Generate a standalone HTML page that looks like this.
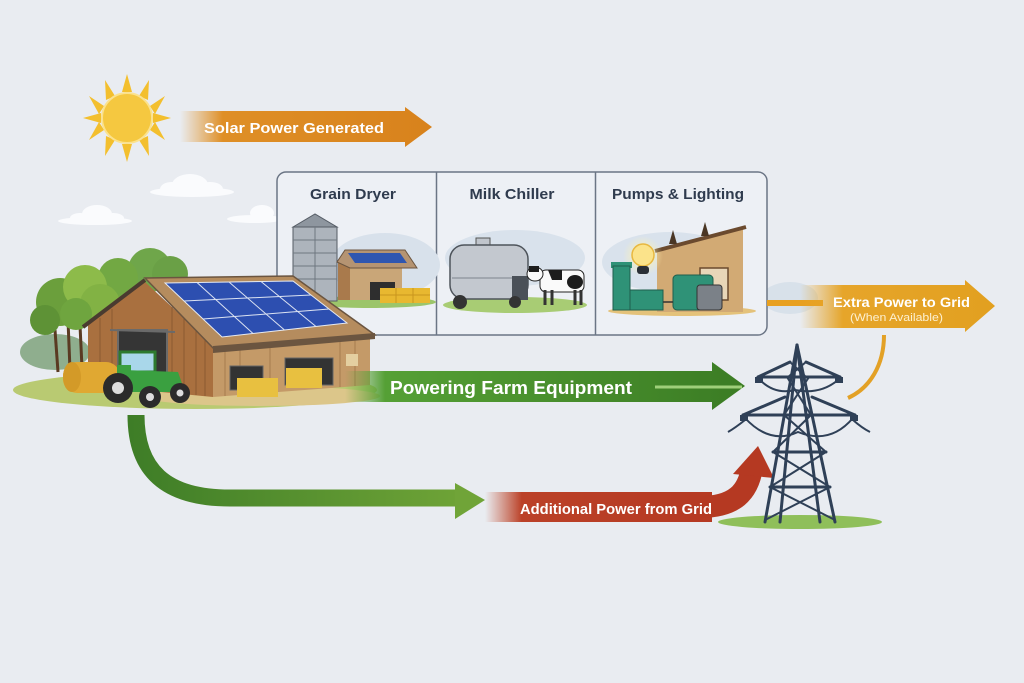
<!DOCTYPE html>
<html><head><meta charset="utf-8"><style>
html,body{margin:0;padding:0;background:#e9ecf1;}
svg{display:block;font-family:"Liberation Sans",sans-serif;}
</style></head><body>
<svg width="1024" height="683" viewBox="0 0 1024 683" xmlns="http://www.w3.org/2000/svg">
<defs>
<linearGradient id="gSolar" x1="180" y1="0" x2="432" y2="0" gradientUnits="userSpaceOnUse">
<stop offset="0" stop-color="#e2962c" stop-opacity="0"/><stop offset="0.17" stop-color="#df8f26"/><stop offset="1" stop-color="#d8821c"/></linearGradient>
<linearGradient id="gGreen" x1="345" y1="0" x2="745" y2="0" gradientUnits="userSpaceOnUse">
<stop offset="0" stop-color="#5aa23a" stop-opacity="0"/><stop offset="0.1" stop-color="#55a035"/><stop offset="1" stop-color="#3b7c24"/></linearGradient>
<linearGradient id="gCurve" x1="130" y1="0" x2="485" y2="0" gradientUnits="userSpaceOnUse">
<stop offset="0" stop-color="#3e7d27"/><stop offset="1" stop-color="#72a638"/></linearGradient>
<linearGradient id="gRed" x1="485" y1="0" x2="730" y2="0" gradientUnits="userSpaceOnUse">
<stop offset="0" stop-color="#c04a2c" stop-opacity="0"/><stop offset="0.15" stop-color="#bb4128"/><stop offset="1" stop-color="#b53922"/></linearGradient>
<linearGradient id="gExtra" x1="800" y1="0" x2="995" y2="0" gradientUnits="userSpaceOnUse">
<stop offset="0" stop-color="#e6a52a" stop-opacity="0"/><stop offset="0.22" stop-color="#e6a52a"/><stop offset="1" stop-color="#e2a020"/></linearGradient>
<radialGradient id="glow" cx="0.5" cy="0.5" r="0.5"><stop offset="0" stop-color="#fff3b0"/><stop offset="1" stop-color="#fff3b0" stop-opacity="0"/></radialGradient>
</defs>
<rect width="1024" height="683" fill="#e9ecf1"/>

<!-- sun -->
<g fill="#f3bf2e">
<polygon points="127,74 132,92 122,92"/><polygon points="127,162 132,144 122,144"/>
<polygon points="83,118 101,113 101,123"/><polygon points="171,118 153,113 153,123"/>
<polygon points="105,80 115,96 106,100"/><polygon points="149,80 139,96 148,100"/>
<polygon points="105,156 115,140 106,136"/><polygon points="149,156 139,140 148,136"/>
<polygon points="89,96 104,106 99,114"/><polygon points="165,96 150,106 155,114"/>
<polygon points="89,140 104,130 99,122"/><polygon points="165,140 150,130 155,122"/>
</g>
<circle cx="127" cy="118" r="25" fill="#f5c840" stroke="#fbe28e" stroke-width="2"/>

<!-- solar arrow -->
<polygon points="180,111 405,111 405,107 432,127 405,147 405,142 180,142" fill="url(#gSolar)"/>
<text x="204" y="133" font-size="14.5" font-weight="bold" fill="#fff" textLength="180" lengthAdjust="spacingAndGlyphs">Solar Power Generated</text>

<!-- clouds -->
<g fill="#fafbfd">
<ellipse cx="192" cy="192" rx="42" ry="5"/><ellipse cx="190" cy="185" rx="18" ry="11"/><ellipse cx="172" cy="189" rx="12" ry="7"/><ellipse cx="210" cy="189" rx="13" ry="7"/>
<ellipse cx="95" cy="221" rx="37" ry="4"/><ellipse cx="97" cy="214" rx="15" ry="9"/><ellipse cx="80" cy="218" rx="10" ry="5"/><ellipse cx="113" cy="218" rx="11" ry="5"/>
<ellipse cx="255" cy="219" rx="28" ry="4"/><ellipse cx="262" cy="213" rx="12" ry="8"/>
</g>

<!-- background hills -->
<ellipse cx="790" cy="298" rx="28" ry="16" fill="#d8e1ea"/>
<ellipse cx="55" cy="352" rx="35" ry="18" fill="#8fae8e"/>

<!-- panel -->
<rect x="277" y="172" width="490" height="163" rx="9" fill="#edf0f5" stroke="#6b7585" stroke-width="1.5"/>
<line x1="436.5" y1="172" x2="436.5" y2="335" stroke="#6b7585" stroke-width="1.5"/>
<line x1="595.5" y1="172" x2="595.5" y2="335" stroke="#6b7585" stroke-width="1.5"/>
<g font-size="15" font-weight="bold" fill="#2f3b4e" text-anchor="middle">
<text x="353" y="199" textLength="86" lengthAdjust="spacingAndGlyphs">Grain Dryer</text>
<text x="512" y="199" textLength="85" lengthAdjust="spacingAndGlyphs">Milk Chiller</text>
<text x="678" y="199" textLength="132" lengthAdjust="spacingAndGlyphs">Pumps &amp; Lighting</text>
</g>

<!-- grain dryer panel -->
<ellipse cx="385" cy="265" rx="55" ry="32" fill="#d8e1eb"/>
<ellipse cx="370" cy="302" rx="66" ry="6" fill="#9cc56a"/>
<polygon points="293,227 315,214 337,227" fill="#8e969f" stroke="#555c65" stroke-width="1"/>
<rect x="293" y="227" width="44" height="74" fill="#adb4bc" stroke="#555c65" stroke-width="1"/>
<g stroke="#6f7780" stroke-width="1"><line x1="293" y1="240" x2="337" y2="240"/><line x1="293" y1="253" x2="337" y2="253"/><line x1="293" y1="266" x2="337" y2="266"/><line x1="293" y1="279" x2="337" y2="279"/><line x1="315" y1="227" x2="315" y2="301"/></g>
<rect x="338" y="262" width="64" height="38" fill="#c9a678"/>
<rect x="338" y="262" width="12" height="38" fill="#a97a4c"/>
<polygon points="337,262 345,250 405,250 417,268 350,268" fill="#b59472" stroke="#6b5540" stroke-width="1"/>
<polygon points="348,253 400,253 407,263 355,263" fill="#2f56b0"/>
<rect x="370" y="282" width="25" height="18" fill="#2e2e2e"/>
<rect x="380" y="288" width="50" height="15" fill="#e8b830"/>
<g stroke="#c9961e"><line x1="396" y1="288" x2="396" y2="303"/><line x1="413" y1="288" x2="413" y2="303"/><line x1="380" y1="295" x2="430" y2="295"/></g>

<!-- milk chiller panel -->
<ellipse cx="515" cy="258" rx="70" ry="28" fill="#d9e2ec"/>
<ellipse cx="515" cy="305" rx="72" ry="8" fill="#a8cc74"/>
<rect x="476" y="238" width="14" height="9" fill="#c0c5cc" stroke="#555" stroke-width="1"/>
<rect x="450" y="245" width="78" height="54" rx="14" fill="#c3c8cf" stroke="#4e545b" stroke-width="1.5"/>
<line x1="452" y1="278" x2="526" y2="278" stroke="#7d848c" stroke-width="1"/>
<rect x="512" y="276" width="16" height="24" fill="#4a5058"/>
<circle cx="460" cy="302" r="7" fill="#333"/><circle cx="515" cy="302" r="6" fill="#333"/>
<rect x="540" y="270" width="44" height="22" rx="6" fill="#fafafa" stroke="#222" stroke-width="1"/>
<path d="M548,270 h14 v10 h-10 z" fill="#1d1d1d"/><ellipse cx="575" cy="282" rx="8" ry="7" fill="#1d1d1d"/>
<ellipse cx="535" cy="274" rx="8" ry="7" fill="#fafafa" stroke="#222"/>
<rect x="529" y="266" width="10" height="6" fill="#1d1d1d"/>
<g stroke="#333" stroke-width="3"><line x1="545" y1="290" x2="545" y2="305"/><line x1="552" y1="290" x2="552" y2="305"/><line x1="575" y1="290" x2="575" y2="305"/><line x1="581" y1="290" x2="581" y2="305"/></g>

<!-- pumps & lighting panel -->
<ellipse cx="670" cy="262" rx="68" ry="30" fill="#d9e2ec"/>
<ellipse cx="682" cy="311" rx="74" ry="5" fill="#e4c27a"/>
<polygon points="657,250 743,228 743,312 657,312" fill="#d2aa74"/>
<line x1="655" y1="251" x2="746" y2="227" stroke="#6b4a2e" stroke-width="4"/>
<polygon points="669,244 673,230 677,244" fill="#4a3624"/><polygon points="701,236 705,222 709,236" fill="#4a3624"/>
<rect x="700" y="268" width="28" height="32" fill="#e8d6b8" stroke="#6b4a2e" stroke-width="1.5"/>
<circle cx="643" cy="256" r="20" fill="url(#glow)"/>
<circle cx="643" cy="255" r="11" fill="#fbe38a" stroke="#e8b840" stroke-width="1.5"/>
<rect x="637" y="266" width="12" height="8" rx="3" fill="#2a2f36"/>
<rect x="611" y="262" width="21" height="6" fill="#2f9277"/>
<rect x="613" y="266" width="17" height="44" fill="#2f9277" stroke="#1f5d4c"/>
<rect x="630" y="290" width="33" height="20" fill="#2f9277" stroke="#1f5d4c"/>
<rect x="673" y="275" width="40" height="35" rx="4" fill="#2f9277" stroke="#1f5d4c"/>
<rect x="697" y="285" width="25" height="25" rx="3" fill="#7b8188" stroke="#333"/>
<line x1="663" y1="302" x2="673" y2="302" stroke="#333" stroke-width="1.5"/>

<!-- big farm -->
<ellipse cx="195" cy="390" rx="182" ry="19" fill="#b9ca72"/>
<ellipse cx="260" cy="396" rx="120" ry="10" fill="#dcc68a"/>
<g fill="#6f3f22" stroke="#5a3a22" stroke-width="3">
<line x1="55" y1="330" x2="58" y2="372"/><line x1="68" y1="320" x2="70" y2="370"/><line x1="80" y1="325" x2="82" y2="368"/>
</g>
<circle cx="150" cy="270" r="22" fill="#6fa64a"/><circle cx="170" cy="274" r="18" fill="#6aa046"/>
<circle cx="118" cy="278" r="20" fill="#72a843"/>
<circle cx="60" cy="302" r="24" fill="#6b9f3c"/><circle cx="85" cy="287" r="22" fill="#8dbb4a"/>
<circle cx="45" cy="320" r="15" fill="#5e9236"/><circle cx="100" cy="304" r="20" fill="#82b244"/>
<circle cx="76" cy="314" r="16" fill="#6fa53f"/>

<!-- barn gable wall -->
<polygon points="88,325 145,282 213,345 213,397 88,385" fill="#a9703f"/>
<g stroke="#8a5a32" stroke-width="1">
<line x1="100" y1="318" x2="100" y2="386"/><line x1="112" y1="309" x2="112" y2="387"/><line x1="172" y1="307" x2="172" y2="393"/><line x1="184" y1="318" x2="184" y2="394"/><line x1="196" y1="329" x2="196" y2="395"/><line x1="205" y1="337" x2="205" y2="396"/>
</g>
<rect x="118" y="330" width="49" height="45" fill="#353535" stroke="#6a6a6a" stroke-width="2"/>
<line x1="110" y1="330" x2="175" y2="332" stroke="#6a6a6a" stroke-width="2"/>
<line x1="83" y1="327" x2="145" y2="280" stroke="#4a3b30" stroke-width="4"/>
<!-- main roof -->
<polygon points="145,278 293,276 375,335 215,350" fill="#b58c5e" stroke="#6b5540" stroke-width="1.5"/>
<polygon points="165,283 293,281 347,323 222,337" fill="#2d4fb0" stroke="#e6eaf2" stroke-width="1"/>
<g stroke="#dce3f2" stroke-width="1">
<line x1="184" y1="301" x2="311" y2="295"/><line x1="203" y1="319" x2="329" y2="309"/>
<line x1="197" y1="282.5" x2="253" y2="333.5"/><line x1="229" y1="282" x2="284.5" y2="330"/><line x1="261" y1="281.5" x2="316" y2="326.5"/>
</g>
<!-- front wall -->
<polygon points="213,352 370,338 370,385 213,397" fill="#c49a68"/>
<g stroke="#a67c4e" stroke-width="1">
<line x1="225" y1="351" x2="225" y2="396"/><line x1="240" y1="350" x2="240" y2="395"/><line x1="270" y1="347" x2="270" y2="393"/><line x1="340" y1="341" x2="340" y2="387"/><line x1="355" y1="340" x2="355" y2="386"/>
</g>
<polygon points="213,346 375,333 375,339 213,353" fill="#6b5540"/>
<rect x="230" y="366" width="33" height="24" fill="#333" stroke="#666"/>
<rect x="285" y="358" width="48" height="27" fill="#333" stroke="#666"/>
<rect x="346" y="354" width="12" height="12" fill="#e4cfa0"/>
<rect x="237" y="378" width="41" height="19" fill="#e8c040"/>
<rect x="286" y="368" width="36" height="20" fill="#e8c040"/>
<!-- hay & tractor -->
<rect x="63" y="362" width="57" height="31" rx="14" fill="#e0a832"/>
<ellipse cx="72" cy="377" rx="9" ry="15" fill="#d39a28"/>
<rect x="120" y="352" width="35" height="20" fill="#a9d7ea" stroke="#2d7a2f" stroke-width="3"/>
<polygon points="125,370 178,372 185,392 128,392" fill="#3aa040"/>
<rect x="117" y="365" width="14" height="28" fill="#3aa040"/>
<circle cx="118" cy="388" r="15" fill="#2b2b2b"/><circle cx="118" cy="388" r="6" fill="#ddd"/>
<circle cx="150" cy="397" r="11" fill="#2b2b2b"/><circle cx="150" cy="397" r="4" fill="#ddd"/>
<circle cx="180" cy="393" r="10" fill="#2b2b2b"/><circle cx="180" cy="393" r="3.5" fill="#ddd"/>

<!-- green arrow -->
<polygon points="345,371 712,371 712,362 745,386 712,410 712,402 345,402" fill="url(#gGreen)"/>
<line x1="655" y1="387" x2="742" y2="387" stroke="#9fcf7a" stroke-width="3"/>
<text x="390" y="394" font-size="18" font-weight="bold" fill="#fff" textLength="242" lengthAdjust="spacingAndGlyphs">Powering Farm Equipment</text>

<!-- bottom green curve -->
<path d="M136,415 C136,470 165,498 230,498 L458,498" fill="none" stroke="url(#gCurve)" stroke-width="17"/>
<polygon points="455,483 485,500 455,519" fill="#70a438"/>

<!-- red arrow -->
<polygon points="485,492 712,492 712,522 485,522" fill="url(#gRed)"/>
<path d="M700,507 C735,507 748,492 752,468" fill="none" stroke="#b53922" stroke-width="22"/>
<polygon points="733,474 758,446 774,478" fill="#b53922"/>
<text x="520" y="514" font-size="14.5" font-weight="bold" fill="#fff" textLength="192" lengthAdjust="spacingAndGlyphs">Additional Power from Grid</text>

<!-- extra power arrow -->
<rect x="767" y="300" width="56" height="6" fill="#e8a020"/>
<polygon points="800,285 965,285 965,280 995,306 965,332 965,328 800,328" fill="url(#gExtra)"/>
<text x="833" y="307" font-size="14" font-weight="bold" fill="#fff" textLength="137" lengthAdjust="spacingAndGlyphs">Extra Power to Grid</text>
<text x="850" y="321" font-size="11" fill="#fdf0d0" textLength="93" lengthAdjust="spacingAndGlyphs">(When Available)</text>
<path d="M884,335 C884,365 870,388 848,398" fill="none" stroke="#e3a126" stroke-width="4"/>

<!-- tower -->
<ellipse cx="800" cy="522" rx="82" ry="7" fill="#8fbf5a"/>
<g stroke="#2f4057" stroke-width="3" fill="none" stroke-linecap="round">
<line x1="797" y1="345" x2="765" y2="522"/><line x1="797" y1="345" x2="835" y2="522"/>
<line x1="797" y1="345" x2="780" y2="522"/><line x1="797" y1="345" x2="820" y2="522"/>
<line x1="758" y1="377" x2="840" y2="377"/><line x1="743" y1="415" x2="855" y2="415"/>
<line x1="773" y1="452" x2="826" y2="452"/><line x1="770" y1="487" x2="830" y2="487"/>
<line x1="758" y1="377" x2="790" y2="362"/><line x1="840" y1="377" x2="806" y2="362"/>
<line x1="743" y1="415" x2="785" y2="397"/><line x1="855" y1="415" x2="812" y2="397"/>
</g>
<g stroke="#2f4057" stroke-width="2" fill="none">
<line x1="787" y1="377" x2="811" y2="415"/><line x1="809" y1="377" x2="784" y2="415"/>
<line x1="784" y1="415" x2="826" y2="452"/><line x1="811" y1="415" x2="773" y2="452"/>
<line x1="773" y1="452" x2="830" y2="487"/><line x1="826" y1="452" x2="770" y2="487"/>
<line x1="770" y1="487" x2="835" y2="520"/><line x1="830" y1="487" x2="765" y2="520"/>
<line x1="790" y1="362" x2="806" y2="377"/><line x1="806" y1="362" x2="788" y2="377"/>
<path d="M760,380 Q775,395 795,390 Q820,395 838,380"/>
<path d="M745,418 Q770,445 798,432 Q830,445 853,418"/>
<path d="M745,420 Q735,428 728,432"/><path d="M853,420 Q862,428 870,432"/>
</g>
<g fill="#2f4057"><rect x="755" y="377" width="8" height="6"/><rect x="835" y="377" width="8" height="6"/><rect x="740" y="415" width="8" height="6"/><rect x="850" y="415" width="8" height="6"/></g>
</svg>
</body></html>
